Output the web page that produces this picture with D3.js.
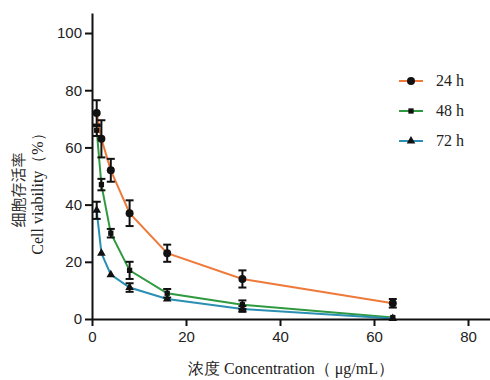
<!DOCTYPE html>
<html>
<head>
<meta charset="utf-8">
<script src="https://cdn.jsdelivr.net/npm/d3@7/dist/d3.min.js"></script>
<style>
  body { margin: 0; background: #fff; }
  .tick text { font-family: "Liberation Sans", Arial, sans-serif; font-size: 15px; fill: #222; }
</style>
</head>
<body>
<div id="chart"></div>
<script>
// concentrations (µg/mL)
var conc = [1, 2, 4, 8, 16, 32, 64];
var series = ["24 h", "48 h", "72 h"];
var colors = ["#ee7a3a", "#2f9a40", "#2a8fb2"];
var symbols = ["circle", "square", "triangle"];
// viability (%) and error (SD)
var v24 = [72, 63, 52, 37, 23, 14, 5.5];
var e24 = [4.5, 6.5, 4, 4.5, 3, 3, 1.5];
var v48 = [66, 47, 30, 17, 9, 5, 0.5];
var e48 = [2, 2, 1.5, 3, 1.5, 1.5, 0.5];
var v72 = [38, 23, 15.5, 11, 7, 3.5, 0.2];
var e72 = [3, 0.5, 0.5, 1.5, 0.5, 1, 0.3];
var xTicks = [0, 20, 40, 60, 80];
var yTicks = [0, 20, 40, 60, 80, 100];

var W = 490, H = 380;
var svg = d3.select("#chart").append("svg").attr("width", W).attr("height", H);

var x = d3.scaleLinear().domain([0, 85]).range([92, 491.5]);
var y = d3.scaleLinear().domain([0, 107]).range([319, 13]);

var data = [
  { name: series[0], vals: v24, errs: e24 },
  { name: series[1], vals: v48, errs: e48 },
  { name: series[2], vals: v72, errs: e72 }
];

var line = d3.line().x(d => x(d[0])).y(d => y(d[1]));

function symType(s) {
  return s == "circle" ? d3.symbolCircle : s == "square" ? d3.symbolSquare : d3.symbolTriangle;
}
function symSize(s) {
  return s == "circle" ? 50 : s == "square" ? 28 : 32;
}

data.forEach(function(s, i) {
  var pts = conc.map((c, j) => [c, s.vals[j], s.errs[j]]);
  svg.append("path")
    .attr("d", line(pts))
    .attr("fill", "none")
    .attr("stroke", colors[i])
    .attr("stroke-width", 2);
});

// error bars + markers, drawn over lines
data.forEach(function(s, i) {
  var pts = conc.map((c, j) => [c, s.vals[j], s.errs[j]]);
  var g = svg.append("g");
  pts.forEach(function(p) {
    var cx = x(p[0]), top = y(p[1] + p[2]), bot = y(Math.max(0, p[1] - p[2]));
    if (p[2] > 0.6) {
      g.append("line").attr("x1", cx).attr("x2", cx).attr("y1", top).attr("y2", bot)
        .attr("stroke", "#111").attr("stroke-width", 2);
      g.append("line").attr("x1", cx - 4).attr("x2", cx + 4).attr("y1", top).attr("y2", top)
        .attr("stroke", "#111").attr("stroke-width", 2);
      g.append("line").attr("x1", cx - 4).attr("x2", cx + 4).attr("y1", bot).attr("y2", bot)
        .attr("stroke", "#111").attr("stroke-width", 2);
    }
  });
  g.selectAll("path.m").data(pts).enter().append("path")
    .attr("class", "m")
    .attr("transform", d => "translate(" + x(d[0]) + "," + y(d[1]) + ")")
    .attr("d", d3.symbol().type(symType(symbols[i])).size(symSize(symbols[i])))
    .attr("fill", "#111");
});

// axes
var xAxis = svg.append("g").attr("transform", "translate(0,319)")
  .call(d3.axisBottom(x).tickValues(xTicks).tickSize(7).tickPadding(5).tickSizeOuter(0));
var yAxis = svg.append("g").attr("transform", "translate(92,0)")
  .call(d3.axisLeft(y).tickValues(yTicks).tickSize(7).tickPadding(3).tickSizeOuter(0));
[xAxis, yAxis].forEach(function(a) {
  a.select(".domain").attr("stroke", "#111").attr("stroke-width", 2);
  a.selectAll(".tick line").attr("stroke", "#111").attr("stroke-width", 2);
});

// axis titles
svg.append("text")
  .attr("x", 291).attr("y", 374)
  .attr("text-anchor", "middle")
  .style("font-family", "'Liberation Serif', 'Times New Roman', serif")
  .style("font-size", "16px").attr("fill", "#222")
  .text("浓度 Concentration（ μg/mL）");

svg.append("text")
  .attr("transform", "translate(24,190) rotate(-90)")
  .attr("text-anchor", "middle")
  .style("font-family", "'Noto Sans CJK SC', serif")
  .style("font-size", "15px").attr("fill", "#333")
  .text("细胞存活率");
svg.append("text")
  .attr("transform", "translate(43,190) rotate(-90)")
  .attr("text-anchor", "middle")
  .style("font-family", "'Liberation Serif', 'Times New Roman', serif")
  .style("font-size", "16px").attr("fill", "#222")
  .text("Cell viability（%）");

// legend
var legend = svg.append("g");
data.forEach(function(s, i) {
  var ly = 81 + i * 30;
  legend.append("line").attr("x1", 399).attr("x2", 423).attr("y1", ly).attr("y2", ly)
    .attr("stroke", colors[i]).attr("stroke-width", 2);
  legend.append("path").attr("transform", "translate(411," + ly + ")")
    .attr("d", d3.symbol().type(symType(symbols[i])).size(symSize(symbols[i]))).attr("fill", "#111");
  legend.append("text").attr("x", 436).attr("y", ly + 5)
    .style("font-family", "'Liberation Serif', 'Times New Roman', serif")
    .style("font-size", "16px").attr("fill", "#222")
    .text(s.name);
});
</script>
</body>
</html>
